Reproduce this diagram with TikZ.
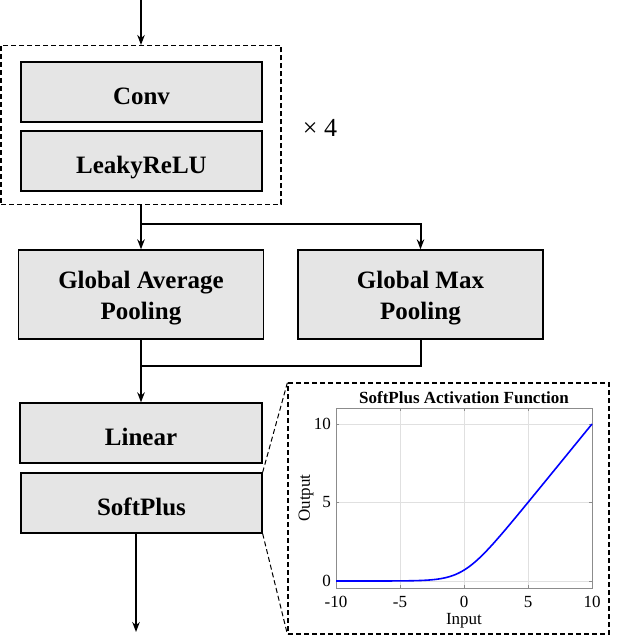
\documentclass[tikz,border=0pt]{standalone}
\usepackage{fontspec}
\setmainfont{Liberation Serif}
\usetikzlibrary{arrows.meta,calc}
\newcommand{\lowr}[1]{\raisebox{-4pt}[\height][0pt]{#1}}
\begin{document}
\begin{tikzpicture}[x=1pt,y=-1pt,
  blk/.style={draw=black, line width=1.3pt, fill=black!10, inner sep=0pt, align=center,
    font=\fontsize{25}{31}\selectfont\bfseries},
  dashbox/.style={draw=black, line width=1.1pt, dash pattern=on 5pt off 3pt, inner sep=0pt},
  conn/.style={line width=2pt, draw=black},
  arr/.style={conn, -{Stealth[length=10pt,width=7.5pt]}},
  zoomline/.style={line width=1pt, dash pattern=on 5pt off 3pt},
  gridl/.style={draw=black!12, line width=0.6pt},
  axl/.style={draw=black!45, line width=0.8pt},
  tick/.style={font=\fontsize{17}{19}\selectfont, inner sep=0pt}
]
\useasboundingbox (0,0) rectangle (623,636);

% repeated block
\node[dashbox, minimum width=280pt, minimum height=159pt] (rep) at (141,125) {};
\node[blk, minimum width=241pt, minimum height=60pt] (conv) at (141.5,92) {\lowr{Conv}};
\node[blk, minimum width=241pt, minimum height=60pt] (leaky) at (141.5,161) {\lowr{LeakyReLU}};
\node[font=\fontsize{26}{30}\selectfont, inner sep=0pt] (times) at (320,128) {× 4};

% pooling
\node[blk, minimum width=245pt, minimum height=89pt] (gap) at (141,294.5) {\rule{0pt}{1.0em}Global Average\\Pooling};
\node[blk, minimum width=245pt, minimum height=89pt] (gmp) at (420.5,294.5) {\rule{0pt}{1.0em}Global Max\\Pooling};

% head
\node[blk, minimum width=242pt, minimum height=60pt] (linear) at (141,433) {\lowr{Linear}};
\node[blk, minimum width=241pt, minimum height=60pt] (softplus) at (141.5,503) {\lowr{SoftPlus}};

% plot box
\node[dashbox, minimum width=321pt, minimum height=251pt] (plotbox) at (448.5,508.5) {};

% connectors
\coordinate (in) at (141,0);
\coordinate (split) at (141,224);
\coordinate (merge) at (141,366);
\coordinate (out) at (136,632);
\draw[arr] (in) -- (rep.north);
\draw[arr] (rep.south) -- (gap.north);
\draw[arr] (split) -| (gmp.north);
\draw[conn] (gap.south) -- (merge);
\draw[conn] (gmp.south) |- (merge);
\draw[arr] (merge) -- (linear.north);
\draw[arr] (softplus.south -| out) -- (out);
\draw[zoomline] (softplus.north east) -- (plotbox.north west);
\draw[zoomline] (softplus.south east) -- (plotbox.south west);

% plot
\foreach \v in {-10,-5,0,5,10} \draw[gridl] ({464+12.8*\v},408) -- ({464+12.8*\v},588);
\foreach \v in {0,5,10} \draw[gridl] (336,{581-15.7*\v}) -- (592,{581-15.7*\v});
\draw[axl] (336,408) rectangle (592,588);
\foreach \v in {-10,-5,0,5,10} {
  \draw[axl] ({464+12.8*\v},588) -- ({464+12.8*\v},585);
  \draw[axl] ({464+12.8*\v},408) -- ({464+12.8*\v},411);
  \node[tick, anchor=north] at ({464+12.8*\v},596) {\v};
}
\foreach \v in {0,5,10} {
  \draw[axl] (336,{581-15.7*\v}) -- (339,{581-15.7*\v});
  \draw[axl] (592,{581-15.7*\v}) -- (589,{581-15.7*\v});
  \node[tick, anchor=east] at (331,{581-15.7*\v}) {\v};
}
\draw[blue, line width=1.6pt] plot[domain=-10:10, samples=121, smooth]
  ({464+12.8*\x},{581-15.7*(max(\x,0)+ln(1+exp(-abs(\x))))});
\node[font=\fontsize{17}{19}\selectfont\bfseries, inner sep=0pt] (ptitle) at (464,398) {SoftPlus Activation Function};
\node[tick] (xlab) at (464,621) {Input};
\node[tick, rotate=90] (ylab) at (306,498) {Output};
\end{tikzpicture}
\end{document}
